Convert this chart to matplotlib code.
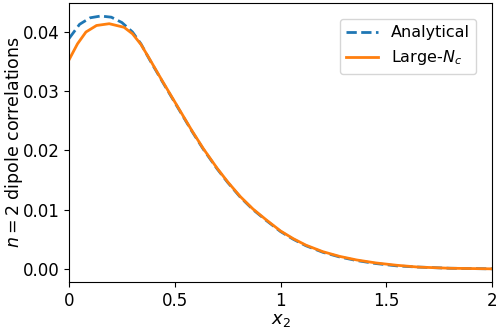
import numpy as np
import matplotlib
matplotlib.use("Agg")
import matplotlib.pyplot as plt
from matplotlib.ticker import FuncFormatter

# values
x_analytical = [0.0, 0.05, 0.1, 0.15, 0.2, 0.25, 0.3, 0.34, 0.38, 0.44, 0.48, 0.525,
                0.58, 0.635, 0.7, 0.75, 0.81, 0.87, 0.935, 1.0, 1.06, 1.12, 1.2,
                1.28, 1.36, 1.45, 1.55, 1.65, 1.8, 2.0]
y_analytical = [0.0389, 0.0413, 0.0424, 0.0427, 0.0425, 0.0416, 0.0400, 0.0380, 0.0354,
                0.0317, 0.0293, 0.0266, 0.0233, 0.0202, 0.0169, 0.0146, 0.0121, 0.0100,
                0.0081, 0.0063, 0.0050, 0.0039, 0.0028, 0.0020, 0.0014, 0.0009, 0.0005,
                0.0003, 0.0001, 0.0]

x_largeNc = [0.0, 0.04, 0.08, 0.13, 0.19, 0.26, 0.3, 0.34, 0.38, 0.44, 0.48, 0.525,
             0.58, 0.635, 0.7, 0.75, 0.81, 0.87, 0.935, 1.0, 1.06, 1.12, 1.2,
             1.28, 1.36, 1.45, 1.55, 1.65, 1.8, 2.0]
y_largeNc = [0.0353, 0.0380, 0.0400, 0.0411, 0.0414, 0.0408, 0.0397, 0.0379, 0.0355,
             0.0318, 0.0294, 0.0267, 0.0234, 0.0203, 0.0170, 0.0147, 0.0122, 0.0101,
             0.0082, 0.0064, 0.0051, 0.0040, 0.0029, 0.0021, 0.0015, 0.0010, 0.0006,
             0.0003, 0.0001, 0.0]

fig = plt.figure(figsize=(4.98, 3.32), dpi=100)
ax = fig.add_axes([0.1386, 0.151, 0.8494, 0.840])

ax.plot(x_analytical, y_analytical, '--', color='tab:blue', lw=2, label='Analytical')
ax.plot(x_largeNc, y_largeNc, '-', color='tab:orange', lw=2, label=r'Large-$N_c$')

ax.set_xlim(0, 2)
ax.set_ylim(-0.0022, 0.0449)
ax.set_xticks([0, 0.5, 1, 1.5, 2])
ax.xaxis.set_major_formatter(FuncFormatter(lambda v, p: '%g' % v))
ax.set_yticks([0.0, 0.01, 0.02, 0.03, 0.04])
ax.tick_params(labelsize=12)
ax.set_xlabel(r'$x_2$', fontsize=13, labelpad=1)
ax.set_ylabel(r'$n=2$ dipole correlations', fontsize=12.5, labelpad=2)
ax.yaxis.set_label_coords(-0.105, 0.5)
ax.legend(loc='upper right', fontsize=11.5, borderaxespad=1.0)

fig.savefig('out.png', dpi=100)
